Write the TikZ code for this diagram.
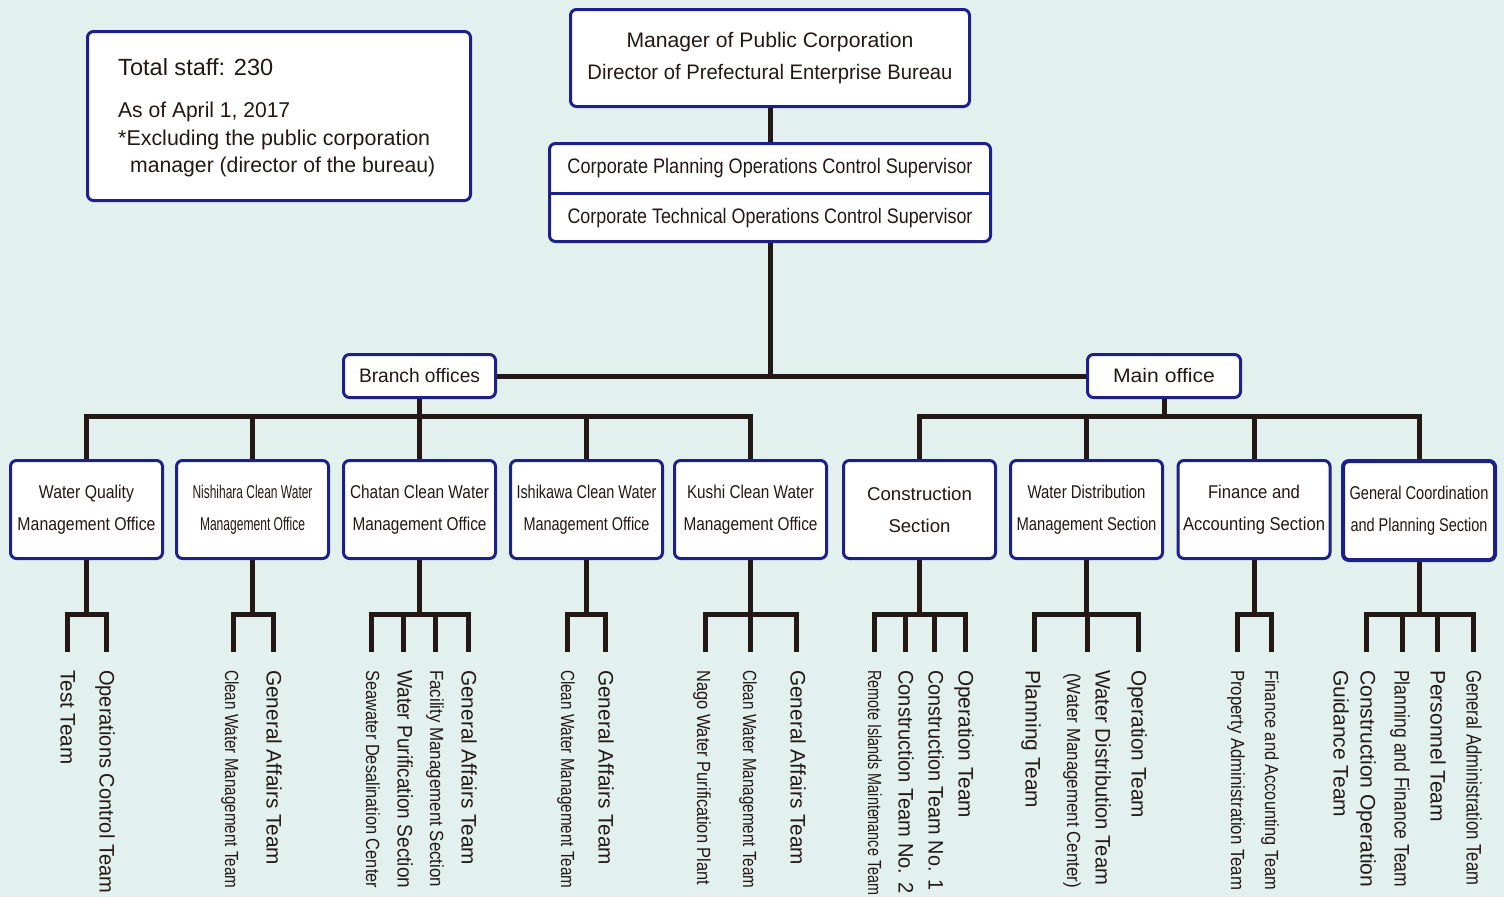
\documentclass[tikz,border=0pt]{standalone}
\usepackage{fontspec}
\setmainfont{Liberation Sans}
\usepackage{graphicx}
\definecolor{bg}{HTML}{E3F1EE}
\definecolor{boxblue}{HTML}{1D2088}
\definecolor{lineblk}{HTML}{231815}
\definecolor{txt}{HTML}{231815}
\newcommand\fw[2]{\resizebox{#1pt}{\height}{#2}}
\begin{document}
\begin{tikzpicture}[x=1pt,y=-1pt,
  box/.style={draw=boxblue, line width=3pt, rounded corners=6pt, fill=white, inner sep=0pt, text=txt, align=center},
  sbox/.style={box, minimum width=152pt, minimum height=98pt, font=\fontsize{18.5}{32}\selectfont},
  ln/.style={draw=lineblk, line width=5pt, line join=miter},
  lbl/.style={rotate=-90, anchor=west, inner sep=0pt, text=txt, text height=15.2pt, text depth=4.4pt, font=\fontsize{21}{22}\selectfont},
  lblc/.style={lbl, text height=13.8pt, text depth=4pt, font=\fontsize{19}{20}\selectfont},
  info/.style={anchor=base west, inner sep=0pt, text=txt},
  plain/.style={inner sep=0pt, text=txt}]
\fill[bg] (0,0) rectangle (1504,897);
\useasboundingbox (0,0) rectangle (1504,897);

% info box
\node[box, minimum width=383pt, minimum height=169pt] (info) at (279,116) {};
\node[info, font=\fontsize{23.4}{24}\selectfont] (i1) at (118,75) {\fw{155}{Total staff: 230}};
\node[info, font=\fontsize{21.4}{24}\selectfont] (i2) at (118,117) {\fw{172}{As of April 1, 2017}};
\node[info, font=\fontsize{21.4}{24}\selectfont] (i3) at (118,145) {\fw{312}{*Excluding the public corporation}};
\node[info, font=\fontsize{21.4}{24}\selectfont] (i4) at (130,172) {\fw{305}{manager (director of the bureau)}};

% top
\node[box, minimum width=399pt, minimum height=97pt, font=\fontsize{21}{32}\selectfont] (top) at (770,58)
  {\fw{287}{Manager of Public Corporation}\\\fw{365}{Director of Prefectural Enterprise Bureau}};
\node[box, minimum width=441pt, minimum height=98pt] (sup) at (770,192.5) {};
\node[plain, font=\fontsize{21}{24}\selectfont] (sp1) at (770,168) {\fw{405}{Corporate Planning Operations Control Supervisor}};
\node[plain, font=\fontsize{21}{24}\selectfont] (sp2) at (770,218) {\fw{405}{Corporate Technical Operations Control Supervisor}};
\coordinate (dl) at (549.5,193.5);
\coordinate (dr) at (990.5,193.5);
\draw[draw=boxblue, line width=3pt] (dl) -- (dr);

% branch / main
\node[box, minimum width=152pt, minimum height=43pt, font=\fontsize{19.5}{22}\selectfont] (branch) at (419.5,376) {\fw{121}{Branch offices}};
\node[box, minimum width=153pt, minimum height=43pt, font=\fontsize{19.5}{22}\selectfont] (main) at (1164,376) {\fw{102}{Main office}};

% lower boxes
\node[sbox] (b1) at (86.5,509.5) {\fw{95}{Water Quality}\\\fw{138}{Management Office}};
\node[sbox] (b2) at (252.5,509.5) {\fw{120}{Nishihara Clean Water}\\\fw{105}{Management Office}};
\node[sbox] (b3) at (419.5,509.5) {\fw{139}{Chatan Clean Water}\\\fw{134}{Management Office}};
\node[sbox] (b4) at (586.5,509.5) {\fw{140}{Ishikawa Clean Water}\\\fw{126}{Management Office}};
\node[sbox] (b5) at (750.5,509.5) {\fw{127}{Kushi Clean Water}\\\fw{134}{Management Office}};
\node[sbox] (b6) at (919.5,509.5) {\fw{105}{Construction}\\\fw{62}{Section}};
\node[sbox] (b7) at (1086.5,509.5) {\fw{118}{Water Distribution}\\\fw{140}{Management Section}};
\node[sbox] (b8) at (1254,509.5) {\fw{92}{Finance and}\\\fw{142}{Accounting Section}};
\node[sbox, line width=4pt, minimum height=99pt] (b9) at (1419,510.5) {\fw{139}{General Coordination}\\\fw{137}{and Planning Section}};

% trunk
\coordinate (j0) at (770,376);
\draw[ln] (top.south) -- (sup.north);
\draw[ln] (sup.south) -- (j0);
\draw[ln] (branch.east) -- (main.west);

% branch bus
\coordinate (bb) at (419.5,416);
\draw[ln] (branch.south) -- (bb);
\draw[ln] (b1.north) -- (b1.north |- bb) -- (b5.north |- bb) -- (b5.north);
\draw[ln] (b2.north) -- (b2.north |- bb);
\draw[ln] (b3.north) -- (b3.north |- bb);
\draw[ln] (b4.north) -- (b4.north |- bb);

% main bus
\coordinate (mb) at (1164,416);
\draw[ln] (main.south) -- (mb);
\draw[ln] (b6.north) -- (b6.north |- mb) -- (b9.north |- mb) -- (b9.north);
\draw[ln] (b7.north) -- (b7.north |- mb);
\draw[ln] (b8.north) -- (b8.north |- mb);

% team trees
\coordinate (h1) at (87,614);
\coordinate (t1a) at (67,652); \coordinate (t1b) at (106,652);
\draw[ln] (b1.south) -- (b1.south |- h1);
\draw[ln] (t1a) |- (t1b |- h1) -- (t1b);

\coordinate (h2) at (253,614);
\coordinate (t2a) at (233,652); \coordinate (t2b) at (273,652);
\draw[ln] (b2.south) -- (b2.south |- h2);
\draw[ln] (t2a) |- (t2b |- h2) -- (t2b);

\coordinate (h3) at (419,614);
\coordinate (t3a) at (371,652); \coordinate (t3b) at (403,652);
\coordinate (t3c) at (435,652); \coordinate (t3d) at (468,652);
\draw[ln] (b3.south) -- (b3.south |- h3);
\draw[ln] (t3a) |- (t3d |- h3) -- (t3d);
\draw[ln] (t3b) -- (t3b |- h3);
\draw[ln] (t3c) -- (t3c |- h3);

\coordinate (h4) at (586,614);
\coordinate (t4a) at (567,652); \coordinate (t4b) at (605,652);
\draw[ln] (b4.south) -- (b4.south |- h4);
\draw[ln] (t4a) |- (t4b |- h4) -- (t4b);

\coordinate (h5) at (750,614);
\coordinate (t5a) at (705,652); \coordinate (t5b) at (750,652); \coordinate (t5c) at (796,652);
\draw[ln] (b5.south) -- (b5.south |- h5);
\draw[ln] (t5a) |- (t5c |- h5) -- (t5c);
\draw[ln] (t5b) -- (t5b |- h5);

\coordinate (h6) at (919,614);
\coordinate (t6a) at (874,652); \coordinate (t6b) at (905,652);
\coordinate (t6c) at (934,652); \coordinate (t6d) at (965,652);
\draw[ln] (b6.south) -- (b6.south |- h6);
\draw[ln] (t6a) |- (t6d |- h6) -- (t6d);
\draw[ln] (t6b) -- (t6b |- h6);
\draw[ln] (t6c) -- (t6c |- h6);

\coordinate (h7) at (1087,614);
\coordinate (t7a) at (1034,652); \coordinate (t7b) at (1087,652); \coordinate (t7c) at (1138,652);
\draw[ln] (b7.south) -- (b7.south |- h7);
\draw[ln] (t7a) |- (t7c |- h7) -- (t7c);
\draw[ln] (t7b) -- (t7b |- h7);

\coordinate (h8) at (1254,614);
\coordinate (t8a) at (1237,652); \coordinate (t8b) at (1271,652);
\draw[ln] (b8.south) -- (b8.south |- h8);
\draw[ln] (t8a) |- (t8b |- h8) -- (t8b);

\coordinate (h9) at (1419,614);
\coordinate (t9a) at (1366,652); \coordinate (t9b) at (1402,652);
\coordinate (t9c) at (1437,652); \coordinate (t9d) at (1473,652);
\draw[ln] (b9.south) -- (b9.south |- h9);
\draw[ln] (t9a) |- (t9d |- h9) -- (t9d);
\draw[ln] (t9b) -- (t9b |- h9);
\draw[ln] (t9c) -- (t9c |- h9);

% team labels
\node[lbl] (l1a) at (66,670) {\fw{94}{Test Team}};
\node[lbl] (l1b) at (105,670) {\fw{223}{Operations Control Team}};
\node[lblc] (l2a) at (230,670) {\fw{218}{Clean Water Management Team}};
\node[lbl] (l2b) at (272,670) {\fw{195}{General Affairs Team}};
\node[lblc] (l3a) at (371,670) {\fw{218}{Seawater Desalination Center}};
\node[lbl] (l3b) at (403,670) {\fw{218}{Water Purification Section}};
\node[lblc] (l3c) at (435,670) {\fw{217}{Facility Management Section}};
\node[lbl] (l3d) at (467,670) {\fw{195}{General Affairs Team}};
\node[lblc] (l4a) at (566,670) {\fw{218}{Clean Water Management Team}};
\node[lbl] (l4b) at (604,670) {\fw{195}{General Affairs Team}};
\node[lblc] (l5a) at (702,670) {\fw{215}{Nago Water Purification Plant}};
\node[lblc] (l5b) at (748,670) {\fw{218}{Clean Water Management Team}};
\node[lbl] (l5c) at (796,670) {\fw{195}{General Affairs Team}};
\node[lblc] (l6a) at (873,670) {\fw{225}{Remote Islands Maintenance Team}};
\node[lbl] (l6b) at (904,670) {\fw{223}{Construction Team No. 2}};
\node[lbl] (l6c) at (934,670) {\fw{220}{Construction Team No. 1}};
\node[lbl] (l6d) at (964,670) {\fw{148}{Operation Team}};
\node[lbl] (l7a) at (1031,670) {\fw{138}{Planning Team}};
\node[lbl] (l7b) at (1101,670) {\fw{215}{Water Distribution Team}};
\node[lblc] (l7c) at (1072,673) {\fw{215}{(Water Management Center)}};
\node[lbl] (l7d) at (1137,670) {\fw{148}{Operation Team}};
\node[lblc] (l8a) at (1236,670) {\fw{220}{Property Administration Team}};
\node[lblc] (l8b) at (1270,670) {\fw{220}{Finance and Accounting Team}};
\node[lbl] (l9a) at (1366,670) {\fw{217}{Construction Operation}};
\node[lbl] (l9b) at (1339,670) {\fw{147}{Guidance Team}};
\node[lbl] (l9c) at (1400,670) {\fw{217}{Planning and Finance Team}};
\node[lbl] (l9d) at (1436,670) {\fw{152}{Personnel Team}};
\node[lbl] (l9e) at (1472,670) {\fw{215}{General Administration Team}};
\end{tikzpicture}
\end{document}
